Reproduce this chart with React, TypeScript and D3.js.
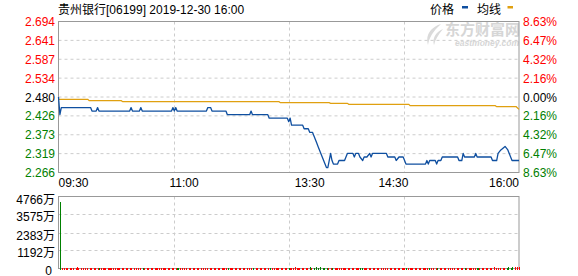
import React from 'react';
import * as d3 from 'd3';

const TITLE = '贵州银行[06199] 2019-12-30 16:00';
const LEGEND_NAMES = ['价格', '均线'];
const PREV_CLOSE = 2.48;
const PRICE_MIN = 2.266;
const PRICE_MAX = 2.694;
const priceTicks = [2.694, 2.641, 2.587, 2.534, 2.48, 2.426, 2.373, 2.319, 2.266];
const priceTickLabels = ['2.694', '2.641', '2.587', '2.534', '2.480', '2.426', '2.373', '2.319', '2.266'];
const pctTickLabels = ['8.63%', '6.47%', '4.32%', '2.16%', '0.00%', '2.16%', '4.32%', '6.47%', '8.63%'];
const timeLabels = ['09:30', '11:00', '13:30', '14:30', '16:00'];
const timeLabelMinutes = [0, 90, 180, 240, 330];
const TOTAL_MINUTES = 330;
const volTicks = [4766, 3575, 2383, 1192, 0];
const volTickLabels = ['4766万', '3575万', '2383万', '1192万', '0'];

// price: change points (minute index, price)
const priceMinutes = [
  0, 1, 2, 23, 24, 27, 28, 29, 51, 52, 53, 58, 59, 60, 81, 82, 83, 84, 85, 106, 107, 109, 110,
  120, 121, 137, 138, 139, 150, 151, 164, 165, 166, 167, 175, 176, 179, 180, 182, 183, 184, 185,
  186, 187, 188, 189, 190, 191, 192, 193, 194, 195, 196, 197, 200, 201, 205, 206, 207, 211, 212,
  213, 215, 216, 218, 219, 221, 223, 224, 225, 235, 236, 241, 242, 244, 247, 249, 263, 264, 265,
  266, 270, 271, 272, 274, 275, 286, 287, 289, 290, 291, 298, 299, 300, 310, 311, 314, 315, 317,
  320, 322, 324, 325, 330,
];
const priceValues = [
  2.48, 2.43, 2.45, 2.45, 2.44, 2.44, 2.45, 2.44, 2.44, 2.45, 2.44, 2.44, 2.45, 2.44, 2.44, 2.45, 2.44, 2.45, 2.44, 2.44, 2.45, 2.45, 2.44,
  2.44, 2.43, 2.43, 2.44, 2.43, 2.43, 2.42, 2.42, 2.41, 2.42, 2.40, 2.40, 2.39, 2.39, 2.38, 2.38, 2.37, 2.36, 2.35,
  2.34, 2.33, 2.32, 2.31, 2.30, 2.29, 2.28, 2.28, 2.30, 2.32, 2.30, 2.29, 2.29, 2.30, 2.30, 2.31, 2.32, 2.32, 2.31,
  2.32, 2.32, 2.31, 2.30, 2.31, 2.31, 2.32, 2.31, 2.32, 2.32, 2.31, 2.31, 2.30, 2.31, 2.31, 2.29, 2.29, 2.30, 2.29,
  2.30, 2.30, 2.29, 2.30, 2.30, 2.31, 2.31, 2.30, 2.30, 2.32, 2.31, 2.31, 2.32, 2.31, 2.31, 2.30, 2.30, 2.32, 2.33,
  2.34, 2.33, 2.31, 2.30, 2.30,
];

// average price: change points
const avgMinutes = [0, 21, 22, 45, 46, 158, 159, 194, 195, 207, 208, 251, 252, 313, 314, 328, 330];
const avgValues = [2.4735, 2.4735, 2.4695, 2.4695, 2.4667, 2.4667, 2.4638, 2.4638, 2.462, 2.462, 2.4593, 2.4593, 2.4553, 2.4553, 2.4525, 2.4525, 2.445];

// volume per minute (万), minute 0..330
const volumes = [
  0,
  4380, 18, 0, 35, 60, 22, 0, 41, 15, 28, 0, 33, 70, 12, 0, 25, 48, 0, 19, 37, 0, 55, 14, 0, 31, 26, 0, 44, 17, 23,
  0, 38, 21, 0, 16, 49, 27, 0, 34, 12, 0, 29, 58, 0, 20, 36, 0, 15, 43, 0, 27, 19, 0, 32, 50, 0, 24, 13, 0, 39,
  22, 0, 18, 46, 0, 30, 14, 0, 27, 53, 0, 21, 35, 0, 17, 42, 0, 26, 12, 0, 38, 29, 0, 15, 47, 0, 33, 20, 0, 25,
  44, 0, 19, 31, 0, 56, 16, 0, 28, 37, 0, 23, 14, 0, 40, 27, 0, 18, 52, 0, 30, 21, 0, 35, 13, 0, 45, 24, 0, 29,
  17, 0, 39, 26, 0, 48, 20, 0, 33, 15, 0, 42, 28, 0, 22, 36, 0, 19, 54, 0, 31, 25, 0, 16, 43, 0, 27, 38, 0, 21,
  50, 0, 24, 34, 0, 18, 45, 0, 29, 22, 0, 37, 61, 0, 26, 40, 0, 33, 72, 0, 48, 55, 0, 39, 66, 0, 58, 44, 0, 70,
  63, 0, 52, 81, 0, 47, 69, 0, 58, 36, 0, 44, 62, 0, 51, 38, 0, 27, 45, 0, 33, 58, 0, 41, 29, 0, 36, 50, 0, 25,
  39, 0, 31, 46, 0, 22, 35, 0, 43, 28, 0, 19, 37, 0, 26, 48, 0, 30, 21, 0, 34, 42, 0, 18, 29, 0, 40, 23, 0, 35,
  27, 0, 44, 19, 0, 32, 51, 0, 24, 38, 0, 16, 45, 0, 28, 33, 0, 21, 47, 0, 36, 25, 0, 30, 18, 0, 41, 29, 0, 34,
  22, 0, 38, 27, 0, 45, 31, 0, 20, 36, 0, 53, 28, 0, 41, 33, 0, 24, 48, 0, 37, 29, 0, 44, 26, 0, 35, 52, 0, 40,
  31, 0, 46, 58, 0, 39, 62, 0, 47, 55, 0, 71, 43, 0, 60, 38, 0, 52, 49, 0, 66, 74, 0, 58, 81, 0, 69, 90, 0, 95,
];

const FONT = '"Liberation Sans", Arial, "Noto Sans CJK SC", sans-serif';
const RED = '#ff0000';
const GREEN = '#008000';
const PRICE_COLOR = '#0f4fa0';
const AVG_COLOR = '#e0a010';
const BORDER = '#999999';
const GRID = '#cccccc';

export default function App() {
  const left = 58.5;
  const right = 519;
  const x = d3.scaleLinear().domain([0, TOTAL_MINUTES]).range([left, right]);
  const y = d3.scaleLinear().domain([PRICE_MIN, PRICE_MAX]).range([172.5, 21.5]);
  const vy = d3.scaleLinear().domain([0, 4766]).range([268.5, 196.5]);
  const quarter = d3.scaleLinear().domain([0, 4]).range([left, right]);
  const tickPos = d3.scaleLinear().domain([0, priceTicks.length - 1]).range([21.5, 172.5]);

  const priceLine = d3.line<number>().x((d, i) => x(priceMinutes[i])).y((d) => y(d));
  const avgLine = d3.line<number>().x((d, i) => x(avgMinutes[i])).y((d) => y(d));
  const priceAt = d3.scaleLinear().domain(priceMinutes).range(priceValues);

  const grid = '3,3';

  return (
    <svg width={578} height={276} style={{ position: 'absolute', left: 0, top: 0, background: '#fff' }} fontFamily={FONT}>
      <rect x={0} y={0} width={578} height={276} fill="#fff" />
      {/* title */}
      <text x={58} y={14} fontSize={12} fill="#000">{TITLE}</text>
      {/* legend */}
      <text x={430} y={14} fontSize={12} fill="#000">{LEGEND_NAMES[0]}</text>
      <rect x={462} y={6} width={6} height={2.5} fill={PRICE_COLOR} />
      <text x={477} y={14} fontSize={12} fill="#000">{LEGEND_NAMES[1]}</text>
      <rect x={507.5} y={6} width={5.5} height={2.5} fill={AVG_COLOR} />

      {/* watermark */}
      <g opacity={0.9}>
        <path d="M441 24 C431 27 425 35 428 45 C429 38 433 31 441 24 Z" fill="#d6d6d6" />
        <path d="M443 29 C436 32 432 38 434 45 C435 40 438 35 443 29 Z" fill="#d6d6d6" />
        <text x={445} y={35} fontSize={15} fontWeight="bold" fill="#d2d2d2" fontFamily='"Noto Sans CJK SC", sans-serif'>东方财富网</text>
        <text x={519} y={46} fontSize={8.5} fontWeight="bold" fontStyle="italic" fill="#d2d2d2" textAnchor="end">eastmoney.com</text>
      </g>

      {/* main grid */}
      {priceTicks.map((t, i) => (i > 0 && i < priceTicks.length - 1 ? (
        <line key={'h' + i} x1={left} x2={right} y1={tickPos(i)} y2={tickPos(i)} stroke={GRID} strokeDasharray={grid} />
      ) : null))}
      {[1, 2, 3].map((q) => (
        <line key={'v' + q} x1={Math.round(quarter(q)) + 0.5} x2={Math.round(quarter(q)) + 0.5} y1={21.5} y2={172.5} stroke={GRID} strokeDasharray={grid} />
      ))}
      <rect x={left} y={21.5} width={right - left} height={151} fill="none" stroke={BORDER} />

      {/* y labels left */}
      {priceTicks.map((t, i) => (
        <text key={'pl' + i} x={55} y={tickPos(i) + 4.5} fontSize={12} textAnchor="end"
          fill={t > PREV_CLOSE + 1e-6 ? RED : t < PREV_CLOSE - 1e-6 ? GREEN : '#000'}>{priceTickLabels[i]}</text>
      ))}
      {/* y labels right */}
      {priceTicks.map((t, i) => (
        <text key={'pr' + i} x={523} y={tickPos(i) + 4.5} fontSize={12}
          fill={t > PREV_CLOSE + 1e-6 ? RED : t < PREV_CLOSE - 1e-6 ? GREEN : '#000'}>{pctTickLabels[i]}</text>
      ))}
      {/* time labels */}
      {timeLabels.map((lab, i) => (
        <text key={'t' + i} x={x(timeLabelMinutes[i])} y={186.5} fontSize={12} fill="#000"
          textAnchor={i === 0 ? 'start' : i === timeLabels.length - 1 ? 'end' : 'middle'}>{lab}</text>
      ))}

      {/* lines */}
      <path d={avgLine(avgValues) || ''} fill="none" stroke={AVG_COLOR} strokeWidth={1.2} />
      <path d={priceLine(priceValues) || ''} fill="none" stroke={PRICE_COLOR} strokeWidth={1.3} strokeLinejoin="round" />

      {/* volume grid */}
      {volTicks.map((t, i) => (i > 0 && i < volTicks.length - 1 ? (
        <line key={'vh' + i} x1={left} x2={right} y1={Math.round(vy(t)) + 0.5} y2={Math.round(vy(t)) + 0.5} stroke={GRID} strokeDasharray={grid} />
      ) : null))}
      {[1, 2, 3].map((q) => (
        <line key={'vv' + q} x1={Math.round(quarter(q)) + 0.5} x2={Math.round(quarter(q)) + 0.5} y1={196.5} y2={268.5} stroke={GRID} strokeDasharray={grid} />
      ))}
      <rect x={left} y={196.5} width={right - left} height={72} fill="none" stroke={BORDER} />
      {volTicks.map((t, i) => (
        <text key={'vl' + i} x={i === volTicks.length - 1 ? 52 : 55} y={Math.min(vy(t) + 7, 274.5)} fontSize={12} textAnchor="end" fill="#000">{volTickLabels[i]}</text>
      ))}

      {/* volume bars */}
      <g shapeRendering="crispEdges">
        {volumes.map((v, m) => {
          if (v <= 0) return null;
          const down = m > 0 && priceAt(m) < priceAt(m - 1) - 1e-9;
          const top = Math.min(vy(v), vy(0) - 0.5);
          return (
            <rect key={'b' + m} x={x(m) + 0.3} y={top} width={1.1} height={vy(0) + 1 - top} fill={down ? GREEN : RED} />
          );
        })}
      </g>
    </svg>
  );
}
